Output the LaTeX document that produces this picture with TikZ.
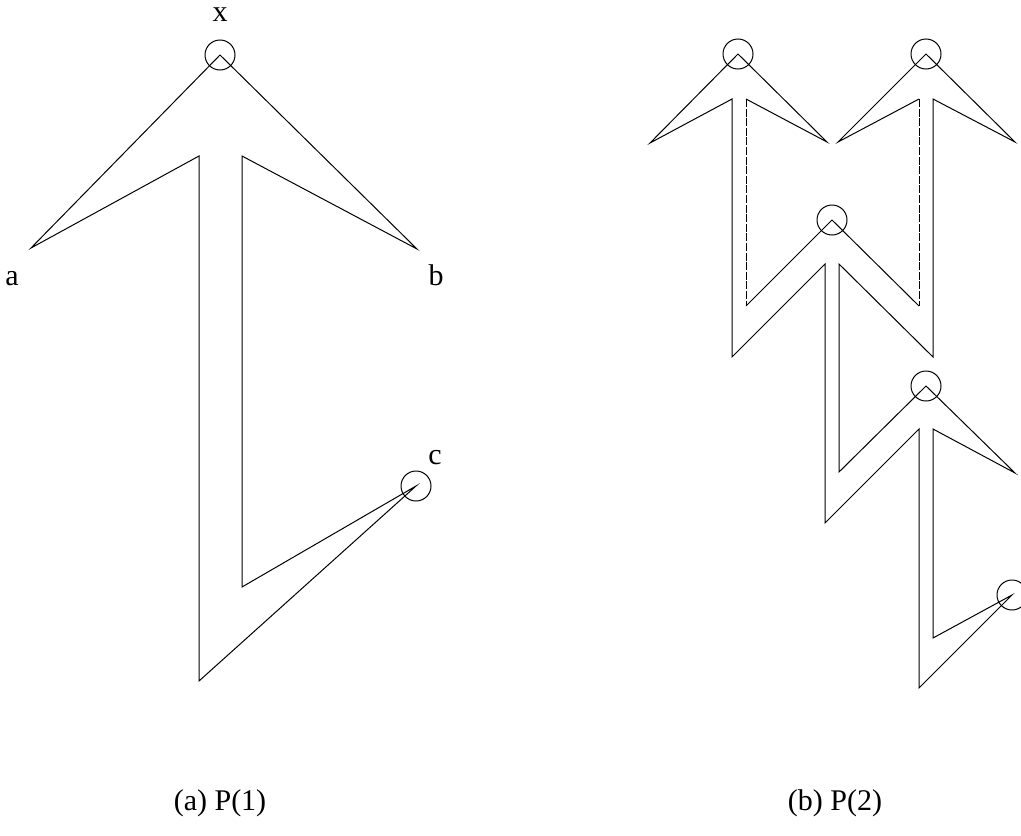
\documentclass[tikz,border=0pt]{standalone}
\usepackage{fontspec}
\setmainfont{Liberation Serif}
\usetikzlibrary{positioning}

\tikzset{
  vtx/.style={circle, draw, line width=0.5pt, minimum size=15pt, inner sep=0pt},
  lbl/.style={font=\fontsize{15}{18}\selectfont, inner sep=0pt, anchor=base},
  outline/.style={line width=0.5pt},
  joinline/.style={line width=0.5pt, dash pattern=on 4pt off 0.8pt}
}

\begin{document}
\begin{tikzpicture}[x=0.5pt, y=-0.5pt]
\useasboundingbox (0,0) rectangle (1021,835);

% (a) P(1)
\coordinate (bot) at (199,681);
\coordinate (lin) at (199,156);
\coordinate (tipa) at (31,248);
\coordinate (topx) at (220,55);
\coordinate (tipb) at (417,249);
\coordinate (rin) at (242,156);
\coordinate (rlow) at (242,587);
\coordinate (tipc) at (416,486);
\draw[outline] (bot) -- (lin) -- (tipa) -- (topx) -- (tipb) -- (rin) -- (rlow) -- (tipc) -- cycle;
\node[vtx] (nx) at (topx) {};
\node[vtx] (nc) at (tipc) {};
\node[lbl] (lx) at (220,21) {x};
\node[lbl] (la) at (12,285) {a};
\node[lbl] (lb) at (436,285) {b};
\node[lbl] (lc) at (435,464) {c};

% (b) P(2)
\coordinate (q1) at (919,688);
\coordinate (q2) at (919,429);
\coordinate (q3) at (825,523);
\coordinate (q4) at (825,264);
\coordinate (q5) at (732,357);
\coordinate (q6) at (732,99);
\coordinate (q7) at (650,143);
\coordinate (p1) at (738,54);
\coordinate (q8) at (827,142);
\coordinate (q9) at (746,99);
\coordinate (q10) at (746,306);
\coordinate (p3) at (832,220);
\coordinate (q11) at (919,306);
\coordinate (q12) at (919,99);
\coordinate (q13) at (838,142);
\coordinate (p2) at (926,54);
\coordinate (q14) at (1015,142);
\coordinate (q15) at (933,99);
\coordinate (q16) at (933,357);
\coordinate (q17) at (839,264);
\coordinate (q18) at (839,472);
\coordinate (p4) at (926,386);
\coordinate (q19) at (1015,473);
\coordinate (q20) at (933,429);
\coordinate (q21) at (933,638);
\coordinate (p5) at (1012,595);
\draw[outline] (q9) -- (q8) -- (p1) -- (q7) -- (q6) -- (q5) -- (q4) -- (q3) -- (q2) -- (q1)
  -- (p5) -- (q21) -- (q20) -- (q19) -- (p4) -- (q18) -- (q17) -- (q16) -- (q15) -- (q14)
  -- (p2) -- (q13) -- (q12);
\draw[outline] (q10) -- (p3) -- (q11);
\draw[joinline] (q9) -- (q10);
\draw[joinline] (q12) -- (q11);
\node[vtx] (n1) at (p1) {};
\node[vtx] (n2) at (p2) {};
\node[vtx] (n3) at (p3) {};
\node[vtx] (n4) at (p4) {};
\node[vtx] (n5) at (p5) {};

\node[lbl] (capa) at (220,810) {(a) P(1)};
\node[lbl] (capb) at (835,810) {(b) P(2)};
\end{tikzpicture}
\end{document}
